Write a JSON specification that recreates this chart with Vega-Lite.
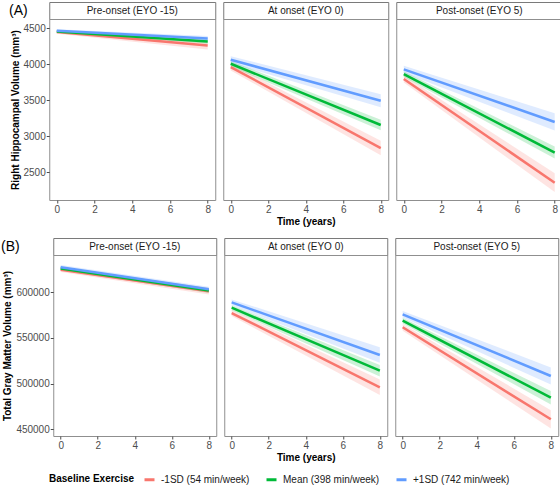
{
  "$schema": "https://vega.github.io/schema/vega-lite/v6.json",
  "padding": {"left": 0, "top": 1, "right": 0, "bottom": 0},
  "background": "white",
  "datasets": {
    "strips": [
      {"panel": "Pre-onset (EYO -15)", "tag": "(A)", "row": "A"},
      {"panel": "At onset (EYO 0)", "tag": "(A)", "row": "A"},
      {"panel": "Post-onset (EYO 5)", "tag": "(A)", "row": "A"},
      {"panel": "Pre-onset (EYO -15)", "tag": "(B)", "row": "B"},
      {"panel": "At onset (EYO 0)", "tag": "(B)", "row": "B"},
      {"panel": "Post-onset (EYO 5)", "tag": "(B)", "row": "B"}
    ],
    "hip": [
      {"panel": "Pre-onset (EYO -15)", "group": "-1SD (54 min/week)", "t": 0, "y": 4450, "lo": 4425, "hi": 4475},
      {"panel": "Pre-onset (EYO -15)", "group": "-1SD (54 min/week)", "t": 8, "y": 4262, "lo": 4205, "hi": 4318},
      {"panel": "Pre-onset (EYO -15)", "group": "Mean (398 min/week)", "t": 0, "y": 4458, "lo": 4438, "hi": 4478},
      {"panel": "Pre-onset (EYO -15)", "group": "Mean (398 min/week)", "t": 8, "y": 4318, "lo": 4285, "hi": 4350},
      {"panel": "Pre-onset (EYO -15)", "group": "+1SD (742 min/week)", "t": 0, "y": 4466, "lo": 4443, "hi": 4489},
      {"panel": "Pre-onset (EYO -15)", "group": "+1SD (742 min/week)", "t": 8, "y": 4360, "lo": 4325, "hi": 4395},
      {"panel": "At onset (EYO 0)", "group": "-1SD (54 min/week)", "t": 0, "y": 3962, "lo": 3915, "hi": 4009},
      {"panel": "At onset (EYO 0)", "group": "-1SD (54 min/week)", "t": 8, "y": 2837, "lo": 2737, "hi": 2937},
      {"panel": "At onset (EYO 0)", "group": "Mean (398 min/week)", "t": 0, "y": 4008, "lo": 3968, "hi": 4048},
      {"panel": "At onset (EYO 0)", "group": "Mean (398 min/week)", "t": 8, "y": 3157, "lo": 3085, "hi": 3229},
      {"panel": "At onset (EYO 0)", "group": "+1SD (742 min/week)", "t": 0, "y": 4064, "lo": 4015, "hi": 4113},
      {"panel": "At onset (EYO 0)", "group": "+1SD (742 min/week)", "t": 8, "y": 3494, "lo": 3404, "hi": 3584},
      {"panel": "Post-onset (EYO 5)", "group": "-1SD (54 min/week)", "t": 0, "y": 3796, "lo": 3746, "hi": 3846},
      {"panel": "Post-onset (EYO 5)", "group": "-1SD (54 min/week)", "t": 8, "y": 2355, "lo": 2225, "hi": 2485},
      {"panel": "Post-onset (EYO 5)", "group": "Mean (398 min/week)", "t": 0, "y": 3865, "lo": 3825, "hi": 3905},
      {"panel": "Post-onset (EYO 5)", "group": "Mean (398 min/week)", "t": 8, "y": 2774, "lo": 2690, "hi": 2858},
      {"panel": "Post-onset (EYO 5)", "group": "+1SD (742 min/week)", "t": 0, "y": 3931, "lo": 3881, "hi": 3981},
      {"panel": "Post-onset (EYO 5)", "group": "+1SD (742 min/week)", "t": 8, "y": 3199, "lo": 3079, "hi": 3319}
    ],
    "gm": [
      {"panel": "Pre-onset (EYO -15)", "group": "-1SD (54 min/week)", "t": 0, "y": 624700, "lo": 622300, "hi": 627100},
      {"panel": "Pre-onset (EYO -15)", "group": "-1SD (54 min/week)", "t": 8, "y": 601200, "lo": 597500, "hi": 604900},
      {"panel": "Pre-onset (EYO -15)", "group": "Mean (398 min/week)", "t": 0, "y": 626000, "lo": 624000, "hi": 628000},
      {"panel": "Pre-onset (EYO -15)", "group": "Mean (398 min/week)", "t": 8, "y": 601800, "lo": 599300, "hi": 604300},
      {"panel": "Pre-onset (EYO -15)", "group": "+1SD (742 min/week)", "t": 0, "y": 627500, "lo": 625200, "hi": 629800},
      {"panel": "Pre-onset (EYO -15)", "group": "+1SD (742 min/week)", "t": 8, "y": 603300, "lo": 600500, "hi": 606100},
      {"panel": "At onset (EYO 0)", "group": "-1SD (54 min/week)", "t": 0, "y": 577300, "lo": 574000, "hi": 580600},
      {"panel": "At onset (EYO 0)", "group": "-1SD (54 min/week)", "t": 8, "y": 496000, "lo": 487500, "hi": 504500},
      {"panel": "At onset (EYO 0)", "group": "Mean (398 min/week)", "t": 0, "y": 583100, "lo": 580300, "hi": 585900},
      {"panel": "At onset (EYO 0)", "group": "Mean (398 min/week)", "t": 8, "y": 514200, "lo": 507900, "hi": 520500},
      {"panel": "At onset (EYO 0)", "group": "+1SD (742 min/week)", "t": 0, "y": 589000, "lo": 585800, "hi": 592200},
      {"panel": "At onset (EYO 0)", "group": "+1SD (742 min/week)", "t": 8, "y": 531400, "lo": 523000, "hi": 539800},
      {"panel": "Post-onset (EYO 5)", "group": "-1SD (54 min/week)", "t": 0, "y": 561700, "lo": 558000, "hi": 565400},
      {"panel": "Post-onset (EYO 5)", "group": "-1SD (54 min/week)", "t": 8, "y": 461000, "lo": 451000, "hi": 471000},
      {"panel": "Post-onset (EYO 5)", "group": "Mean (398 min/week)", "t": 0, "y": 568900, "lo": 565800, "hi": 572000},
      {"panel": "Post-onset (EYO 5)", "group": "Mean (398 min/week)", "t": 8, "y": 484600, "lo": 477300, "hi": 491900},
      {"panel": "Post-onset (EYO 5)", "group": "+1SD (742 min/week)", "t": 0, "y": 575900, "lo": 572300, "hi": 579500},
      {"panel": "Post-onset (EYO 5)", "group": "+1SD (742 min/week)", "t": 8, "y": 508400, "lo": 499000, "hi": 517800}
    ]
  },
  "spacing": 10,
  "center": true,
  "vconcat": [
    {
      "spacing": 6,
      "hconcat": [
        {
          "spacing": 0, "bounds": "flush",
          "vconcat": [
            {
              "width": 166, "height": 17,
              "view": {"stroke": "#7a7a7a", "fill": "white"},
              "data": {"name": "strips"},
              "transform": [{"filter": "datum.panel === 'Pre-onset (EYO -15)' && datum.row === 'A'"}],
              "mark": {"type": "text", "fontSize": 10, "color": "#1a1a1a"},
              "encoding": {"text": {"field": "panel"}, "y": {"field": "tag", "type": "nominal", "axis": {"title": null, "ticks": false, "domain": false, "labelFontSize": 14, "labelColor": "black", "labelPadding": 22, "labelBaseline": "middle"}}}
            },
            {
              "width": 166, "height": 181,
              "data": {"name": "hip"},
              "transform": [{"filter": "datum.panel === 'Pre-onset (EYO -15)'"}],
              "encoding": {
                "x": {"field": "t", "type": "quantitative", "scale": {"domain": [-0.4, 8.4], "nice": false}, "axis": {"values": [0, 2, 4, 6, 8], "title": null}},
                "color": {"field": "group", "type": "nominal", "scale": {"domain": ["-1SD (54 min/week)", "Mean (398 min/week)", "+1SD (742 min/week)"], "range": ["#F8766D", "#00BA38", "#619CFF"]}, "title": "Baseline Exercise"}
              },
              "layer": [
                {"mark": {"type": "area", "opacity": 0.2}, "encoding": {"y": {"field": "lo", "type": "quantitative", "scale": {"domain": [2115, 4630], "nice": false, "zero": false}, "axis": {"values": [2500, 3000, 3500, 4000, 4500], "format": "d", "title": "Right Hippocampal Volume (mm³)"}}, "y2": {"field": "hi"}}},
                {"mark": {"type": "line", "strokeWidth": 2.5}, "encoding": {"y": {"field": "y", "type": "quantitative"}}}
              ]
            }
          ]
        },
        {
          "spacing": 0, "bounds": "flush",
          "vconcat": [
            {
              "width": 165, "height": 17,
              "view": {"stroke": "#7a7a7a", "fill": "white"},
              "data": {"name": "strips"},
              "transform": [{"filter": "datum.panel === 'At onset (EYO 0)' && datum.row === 'A'"}],
              "mark": {"type": "text", "fontSize": 10, "color": "#1a1a1a"},
              "encoding": {"text": {"field": "panel"}}
            },
            {
              "width": 165, "height": 181,
              "data": {"name": "hip"},
              "transform": [{"filter": "datum.panel === 'At onset (EYO 0)'"}],
              "encoding": {
                "x": {"field": "t", "type": "quantitative", "scale": {"domain": [-0.4, 8.4], "nice": false}, "axis": {"values": [0, 2, 4, 6, 8], "title": "Time (years)"}},
                "color": {"field": "group", "type": "nominal", "scale": {"domain": ["-1SD (54 min/week)", "Mean (398 min/week)", "+1SD (742 min/week)"], "range": ["#F8766D", "#00BA38", "#619CFF"]}, "title": "Baseline Exercise"}
              },
              "layer": [
                {"mark": {"type": "area", "opacity": 0.2}, "encoding": {"y": {"field": "lo", "type": "quantitative", "scale": {"domain": [2115, 4630], "nice": false, "zero": false}, "axis": null}, "y2": {"field": "hi"}}},
                {"mark": {"type": "line", "strokeWidth": 2.5}, "encoding": {"y": {"field": "y", "type": "quantitative"}}}
              ]
            }
          ]
        },
        {
          "spacing": 0, "bounds": "flush",
          "vconcat": [
            {
              "width": 166, "height": 17,
              "view": {"stroke": "#7a7a7a", "fill": "white"},
              "data": {"name": "strips"},
              "transform": [{"filter": "datum.panel === 'Post-onset (EYO 5)' && datum.row === 'A'"}],
              "mark": {"type": "text", "fontSize": 10, "color": "#1a1a1a"},
              "encoding": {"text": {"field": "panel"}}
            },
            {
              "width": 166, "height": 181,
              "data": {"name": "hip"},
              "transform": [{"filter": "datum.panel === 'Post-onset (EYO 5)'"}],
              "encoding": {
                "x": {"field": "t", "type": "quantitative", "scale": {"domain": [-0.4, 8.4], "nice": false}, "axis": {"values": [0, 2, 4, 6, 8], "title": null}},
                "color": {"field": "group", "type": "nominal", "scale": {"domain": ["-1SD (54 min/week)", "Mean (398 min/week)", "+1SD (742 min/week)"], "range": ["#F8766D", "#00BA38", "#619CFF"]}, "title": "Baseline Exercise"}
              },
              "layer": [
                {"mark": {"type": "area", "opacity": 0.2}, "encoding": {"y": {"field": "lo", "type": "quantitative", "scale": {"domain": [2115, 4630], "nice": false, "zero": false}, "axis": null}, "y2": {"field": "hi"}}},
                {"mark": {"type": "line", "strokeWidth": 2.5}, "encoding": {"y": {"field": "y", "type": "quantitative"}}}
              ]
            }
          ]
        }
      ]
    },
    {
      "spacing": 6,
      "hconcat": [
        {
          "spacing": 0, "bounds": "flush",
          "vconcat": [
            {
              "width": 163, "height": 17,
              "view": {"stroke": "#7a7a7a", "fill": "white"},
              "data": {"name": "strips"},
              "transform": [{"filter": "datum.panel === 'Pre-onset (EYO -15)' && datum.row === 'B'"}],
              "mark": {"type": "text", "fontSize": 10, "color": "#1a1a1a"},
              "encoding": {"text": {"field": "panel"}, "y": {"field": "tag", "type": "nominal", "axis": {"title": null, "ticks": false, "domain": false, "labelFontSize": 14, "labelColor": "black", "labelPadding": 34, "labelBaseline": "middle"}}}
            },
            {
              "width": 163, "height": 181,
              "data": {"name": "gm"},
              "transform": [{"filter": "datum.panel === 'Pre-onset (EYO -15)'"}],
              "encoding": {
                "x": {"field": "t", "type": "quantitative", "scale": {"domain": [-0.4, 8.4], "nice": false}, "axis": {"values": [0, 2, 4, 6, 8], "title": null}},
                "color": {"field": "group", "type": "nominal", "scale": {"domain": ["-1SD (54 min/week)", "Mean (398 min/week)", "+1SD (742 min/week)"], "range": ["#F8766D", "#00BA38", "#619CFF"]}, "title": "Baseline Exercise"}
              },
              "layer": [
                {"mark": {"type": "area", "opacity": 0.2}, "encoding": {"y": {"field": "lo", "type": "quantitative", "scale": {"domain": [442700, 640800], "nice": false, "zero": false}, "axis": {"values": [450000, 500000, 550000, 600000], "format": "d", "title": "Total Gray Matter Volume (mm³)"}}, "y2": {"field": "hi"}}},
                {"mark": {"type": "line", "strokeWidth": 2.5}, "encoding": {"y": {"field": "y", "type": "quantitative"}}}
              ]
            }
          ]
        },
        {
          "spacing": 0, "bounds": "flush",
          "vconcat": [
            {
              "width": 163, "height": 17,
              "view": {"stroke": "#7a7a7a", "fill": "white"},
              "data": {"name": "strips"},
              "transform": [{"filter": "datum.panel === 'At onset (EYO 0)' && datum.row === 'B'"}],
              "mark": {"type": "text", "fontSize": 10, "color": "#1a1a1a"},
              "encoding": {"text": {"field": "panel"}}
            },
            {
              "width": 163, "height": 181,
              "data": {"name": "gm"},
              "transform": [{"filter": "datum.panel === 'At onset (EYO 0)'"}],
              "encoding": {
                "x": {"field": "t", "type": "quantitative", "scale": {"domain": [-0.4, 8.4], "nice": false}, "axis": {"values": [0, 2, 4, 6, 8], "title": "Time (years)"}},
                "color": {"field": "group", "type": "nominal", "scale": {"domain": ["-1SD (54 min/week)", "Mean (398 min/week)", "+1SD (742 min/week)"], "range": ["#F8766D", "#00BA38", "#619CFF"]}, "title": "Baseline Exercise"}
              },
              "layer": [
                {"mark": {"type": "area", "opacity": 0.2}, "encoding": {"y": {"field": "lo", "type": "quantitative", "scale": {"domain": [442700, 640800], "nice": false, "zero": false}, "axis": null}, "y2": {"field": "hi"}}},
                {"mark": {"type": "line", "strokeWidth": 2.5}, "encoding": {"y": {"field": "y", "type": "quantitative"}}}
              ]
            }
          ]
        },
        {
          "spacing": 0, "bounds": "flush",
          "vconcat": [
            {
              "width": 163, "height": 17,
              "view": {"stroke": "#7a7a7a", "fill": "white"},
              "data": {"name": "strips"},
              "transform": [{"filter": "datum.panel === 'Post-onset (EYO 5)' && datum.row === 'B'"}],
              "mark": {"type": "text", "fontSize": 10, "color": "#1a1a1a"},
              "encoding": {"text": {"field": "panel"}}
            },
            {
              "width": 163, "height": 181,
              "data": {"name": "gm"},
              "transform": [{"filter": "datum.panel === 'Post-onset (EYO 5)'"}],
              "encoding": {
                "x": {"field": "t", "type": "quantitative", "scale": {"domain": [-0.4, 8.4], "nice": false}, "axis": {"values": [0, 2, 4, 6, 8], "title": null}},
                "color": {"field": "group", "type": "nominal", "scale": {"domain": ["-1SD (54 min/week)", "Mean (398 min/week)", "+1SD (742 min/week)"], "range": ["#F8766D", "#00BA38", "#619CFF"]}, "title": "Baseline Exercise"}
              },
              "layer": [
                {"mark": {"type": "area", "opacity": 0.2}, "encoding": {"y": {"field": "lo", "type": "quantitative", "scale": {"domain": [442700, 640800], "nice": false, "zero": false}, "axis": null}, "y2": {"field": "hi"}}},
                {"mark": {"type": "line", "strokeWidth": 2.5}, "encoding": {"y": {"field": "y", "type": "quantitative"}}}
              ]
            }
          ]
        }
      ]
    }
  ],
  "resolve": {"scale": {"color": "shared"}},
  "config": {
    "font": "Liberation Sans",
    "view": {"stroke": "#8f8f8f", "strokeWidth": 1},
    "axis": {"grid": false, "domain": false, "tickColor": "#4d4d4d", "tickSize": 3, "labelColor": "#4d4d4d", "labelFontSize": 10, "labelFont": "Liberation Sans", "labelPadding": 1, "titleFontSize": 10, "titleFontWeight": "bold", "titleColor": "black", "titlePadding": 2, "labelFontWeight": "normal"},
    "axisY": {"titlePadding": 3},
    "legend": {"orient": "bottom", "direction": "horizontal", "titleOrient": "left", "titleFontSize": 10, "titleFontWeight": "bold", "titleColor": "black", "titlePadding": 8, "labelFontSize": 10, "labelColor": "#1a1a1a", "labelOffset": 5, "symbolType": "stroke", "symbolStrokeWidth": 3, "symbolSize": 100, "symbolOpacity": 1, "columnPadding": 10, "offset": 10, "padding": 0}
  }
}
